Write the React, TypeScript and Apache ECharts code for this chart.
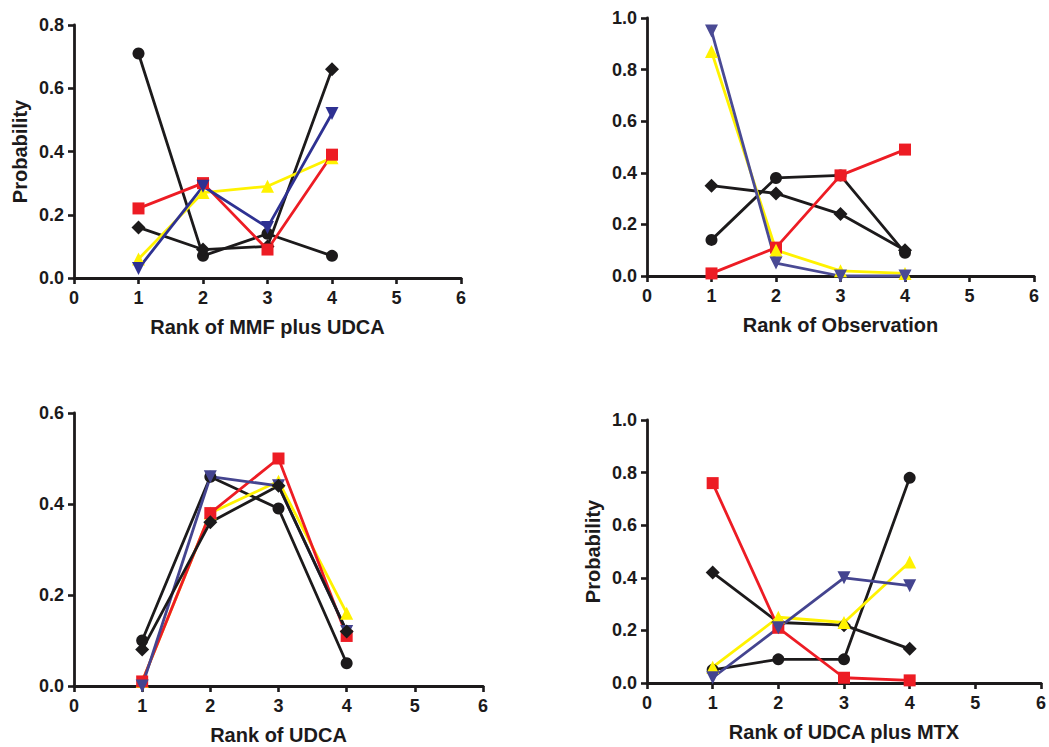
import React, { useEffect, useRef } from "react";
import * as echarts from "echarts";

const ranks = [1, 2, 3, 4];

// Panel 1: Rank of MMF plus UDCA
const mmfCircle = [0.71, 0.07, 0.14, 0.07];
const mmfDiamond = [0.16, 0.09, 0.1, 0.66];
const mmfSquare = [0.22, 0.3, 0.09, 0.39];
const mmfUp = [0.06, 0.27, 0.29, 0.38];
const mmfDown = [0.03, 0.29, 0.16, 0.52];

// Panel 2: Rank of Observation
const obsCircle = [0.14, 0.38, 0.39, 0.09];
const obsDiamond = [0.35, 0.32, 0.24, 0.1];
const obsSquare = [0.01, 0.11, 0.39, 0.49];
const obsUp = [0.87, 0.1, 0.02, 0.01];
const obsDown = [0.95, 0.05, 0.0, 0.0];

// Panel 3: Rank of UDCA
const udcaCircle = [0.1, 0.46, 0.39, 0.05];
const udcaDiamond = [0.08, 0.36, 0.44, 0.12];
const udcaSquare = [0.01, 0.38, 0.5, 0.11];
const udcaUp = [0.01, 0.38, 0.45, 0.16];
const udcaDown = [0.0, 0.46, 0.44, 0.12];

// Panel 4: Rank of UDCA plus MTX
const mtxCircle = [0.05, 0.09, 0.09, 0.78];
const mtxDiamond = [0.42, 0.23, 0.22, 0.13];
const mtxSquare = [0.76, 0.21, 0.02, 0.01];
const mtxUp = [0.06, 0.25, 0.23, 0.46];
const mtxDown = [0.02, 0.21, 0.4, 0.37];

const xTicks = [0, 1, 2, 3, 4, 5, 6];

const panelNames = [
  "Rank of MMF plus UDCA",
  "Rank of Observation",
  "Rank of UDCA",
  "Rank of UDCA plus MTX",
];
const yMaxes = [0.8, 1.0, 0.6, 1.0];
const showYName = [true, false, false, true];

const BLACK = "#1c1a1b";
const RED = "#ed1c24";
const YELLOW = "#fff200";
const BLUES = ["#2e3192", "#4a4a94", "#44448f", "#44448f"];
const DOWN_TRI = "path://M0,0 L10,0 L5,9 Z";

type Mark = "circle" | "diamond" | "square" | "up" | "down";
const panelSeries: { d: number[]; m: Mark }[][] = [
  [
    { d: mmfCircle, m: "circle" },
    { d: mmfDiamond, m: "diamond" },
    { d: mmfUp, m: "up" },
    { d: mmfSquare, m: "square" },
    { d: mmfDown, m: "down" },
  ],
  [
    { d: obsCircle, m: "circle" },
    { d: obsDiamond, m: "diamond" },
    { d: obsSquare, m: "square" },
    { d: obsUp, m: "up" },
    { d: obsDown, m: "down" },
  ],
  [
    { d: udcaCircle, m: "circle" },
    { d: udcaUp, m: "up" },
    { d: udcaSquare, m: "square" },
    { d: udcaDown, m: "down" },
    { d: udcaDiamond, m: "diamond" },
  ],
  [
    { d: mtxCircle, m: "circle" },
    { d: mtxDiamond, m: "diamond" },
    { d: mtxSquare, m: "square" },
    { d: mtxUp, m: "up" },
    { d: mtxDown, m: "down" },
  ],
];

const grids = [
  { left: 74, top: 25, width: 387, height: 253 },
  { left: 647, top: 18, width: 387, height: 258 },
  { left: 74, top: 413, width: 409, height: 273 },
  { left: 647, top: 420, width: 395, height: 263 },
];

const FONT = "'Liberation Sans', Arial, sans-serif";

export default function App() {
  const ref = useRef<HTMLDivElement>(null);
  useEffect(() => {
    document.body.style.margin = "0";
    if (!ref.current) return;
    const chart = echarts.init(ref.current, undefined, { renderer: "svg" });

    const xAxis: any[] = [];
    const yAxis: any[] = [];
    const series: any[] = [];

    const axisCommon = {
      axisLine: { show: true, onZero: false, lineStyle: { color: BLACK, width: 2.8 } },
      axisTick: { show: true, inside: false, length: 6, lineStyle: { color: BLACK, width: 2.6 } },
      splitLine: { show: false },
      axisLabel: {
        color: BLACK,
        fontFamily: FONT,
        fontWeight: "bold",
        fontSize: 18,
      },
    };
    const nameStyle = {
      color: BLACK,
      fontFamily: FONT,
      fontWeight: "bold",
      fontSize: 20,
    };

    grids.forEach((g, i) => {
      xAxis.push({
        ...axisCommon,
        gridIndex: i,
        type: "value",
        min: xTicks[0],
        max: xTicks[xTicks.length - 1],
        interval: 1,
        name: panelNames[i],
        nameLocation: "middle",
        nameGap: 39,
        nameTextStyle: nameStyle,
        axisLabel: { ...axisCommon.axisLabel, margin: 11 },
      });
      yAxis.push({
        ...axisCommon,
        gridIndex: i,
        type: "value",
        min: 0,
        max: yMaxes[i],
        interval: 0.2,
        name: showYName[i] ? "Probability" : "",
        nameLocation: "middle",
        nameGap: 44,
        nameRotate: 90,
        nameTextStyle: nameStyle,
        axisLabel: {
          ...axisCommon.axisLabel,
          margin: 10,
          formatter: (v: number) => v.toFixed(1),
        },
      });

      panelSeries[i].forEach((s) => {
        let color = BLACK;
        let symbol = "circle";
        let size: number | number[] = 12;
        if (s.m === "diamond") { symbol = "diamond"; size = 14; }
        if (s.m === "square") { symbol = "rect"; size = 12; color = RED; }
        if (s.m === "up") { symbol = "triangle"; size = 13; color = YELLOW; }
        if (s.m === "down") { symbol = DOWN_TRI; size = 13; color = BLUES[i]; }
        series.push({
          type: "line",
          xAxisIndex: i,
          yAxisIndex: i,
          data: ranks.map((r, k) => [r, s.d[k]]),
          symbol,
          symbolSize: size,
          showSymbol: true,
          clip: false,
          lineStyle: { color, width: 2.8 },
          itemStyle: { color, borderWidth: 0 },
          emphasis: { disabled: true },
        });
      });
    });

    chart.setOption({
      animation: false,
      backgroundColor: "#ffffff",
      grid: grids.map((g) => ({ ...g, containLabel: false })),
      xAxis,
      yAxis,
      series,
    });

    return () => chart.dispose();
  }, []);

  return <div ref={ref} style={{ width: 1049, height: 747 }} />;
}
